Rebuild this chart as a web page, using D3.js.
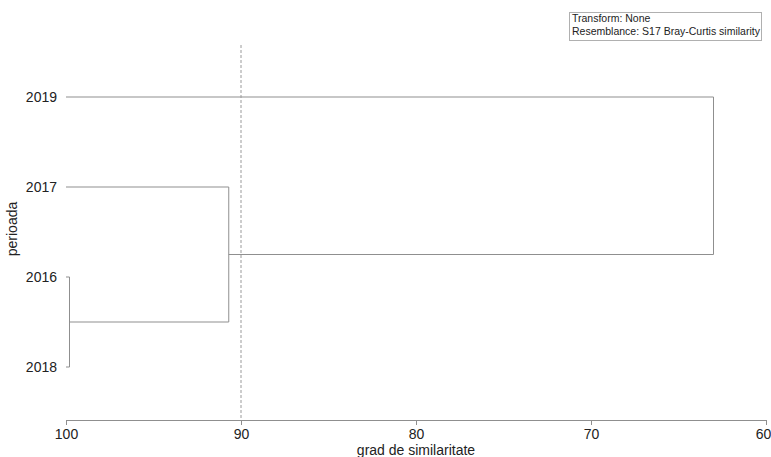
<!DOCTYPE html>
<html>
<head>
<meta charset="utf-8">
<script src="https://cdn.jsdelivr.net/npm/d3@7/dist/d3.min.js"></script>
<style>
  html, body { margin: 0; padding: 0; background: #fff; }
  svg { display: block; font-family: Arial, "Liberation Sans", sans-serif; }
</style>
</head>
<body>
<svg id="chart" width="771" height="457"></svg>
<script>
// Leaf order from top to bottom
const leaves = ["2019", "2017", "2016", "2018"];
// Agglomeration steps: two members joined at a given similarity (%)
const mergeIds = ["m1", "m2", "m3"];
const mergeLeft = ["2016", "2017", "2019"];
const mergeRight = ["2018", "m1", "m2"];
const mergeSim = [99.8, 90.7, 63.0];
// Cut level drawn as a dashed line
const cutLevel = 90;
const xTicks = [100, 90, 80, 70, 60];
const legendLines = ["Transform: None", "Resemblance: S17 Bray-Curtis similarity"];

const svg = d3.select("#chart");
const lineColor = "#8f8f8f";
const textColor = "#222";
const fontSize = 14;

const x = d3.scaleLinear().domain([100, 60]).range([66, 766]);
const y = d3.scalePoint().domain(leaves).range([97, 367]);
const axisY = 420;

// Positions of every node: leaves sit at 100% similarity
const nodes = {};
leaves.forEach(l => { nodes[l] = { sim: 100, y: y(l) }; });
mergeIds.forEach((id, i) => {
  const a = nodes[mergeLeft[i]], b = nodes[mergeRight[i]];
  nodes[id] = { sim: mergeSim[i], y: (a.y + b.y) / 2 };
});

const g = svg.append("g").attr("fill", "none").attr("stroke", lineColor).attr("stroke-width", 1);

// Elbows: a horizontal arm per member, a vertical bar at the join level
mergeIds.forEach((id, i) => {
  const s = mergeSim[i];
  [mergeLeft[i], mergeRight[i]].forEach(c => {
    const n = nodes[c];
    g.append("line")
      .attr("x1", x(n.sim)).attr("x2", x(s))
      .attr("y1", n.y).attr("y2", n.y);
  });
  g.append("line")
    .attr("x1", x(s)).attr("x2", x(s))
    .attr("y1", nodes[mergeLeft[i]].y).attr("y2", nodes[mergeRight[i]].y);
});

// Dashed cut line
svg.append("line")
  .attr("x1", x(cutLevel)).attr("x2", x(cutLevel))
  .attr("y1", 45).attr("y2", axisY)
  .attr("stroke", "#9a9a9a").attr("stroke-width", 1)
  .attr("stroke-dasharray", "3,2");

// Bottom axis
const xAxis = d3.axisBottom(x).tickValues(xTicks).tickSize(5).tickSizeOuter(0).tickPadding(4);
const ax = svg.append("g").attr("transform", `translate(0,${axisY})`).call(xAxis);
ax.select(".domain").attr("stroke", lineColor);
ax.selectAll(".tick line").attr("stroke", lineColor);
ax.selectAll(".tick text")
  .attr("fill", textColor).attr("font-size", fontSize)
  .attr("font-family", "Arial, 'Liberation Sans', sans-serif")
  .attr("dx", d => d === 60 ? -3 : 0);

// Leaf labels
svg.append("g").selectAll("text").data(leaves).join("text")
  .attr("x", 57).attr("y", d => y(d))
  .attr("dy", "0.35em")
  .attr("text-anchor", "end")
  .attr("font-size", fontSize).attr("fill", textColor)
  .text(d => d);

// Axis titles
svg.append("text")
  .attr("x", 416).attr("y", 455)
  .attr("text-anchor", "middle")
  .attr("font-size", fontSize).attr("fill", textColor)
  .text("grad de similaritate");

svg.append("text")
  .attr("transform", "translate(17,229) rotate(-90)")
  .attr("text-anchor", "middle")
  .attr("font-size", fontSize).attr("fill", textColor)
  .text("perioada");

// Info box
const box = svg.append("g");
box.append("rect")
  .attr("x", 569.5).attr("y", 12.5).attr("width", 192).attr("height", 28)
  .attr("fill", "#fff").attr("stroke", "#b0b0b0");
box.selectAll("text").data(legendLines).join("text")
  .attr("x", 572).attr("y", (d, i) => 22 + i * 13)
  .attr("font-size", 10.5).attr("fill", textColor)
  .text(d => d);
</script>
</body>
</html>
